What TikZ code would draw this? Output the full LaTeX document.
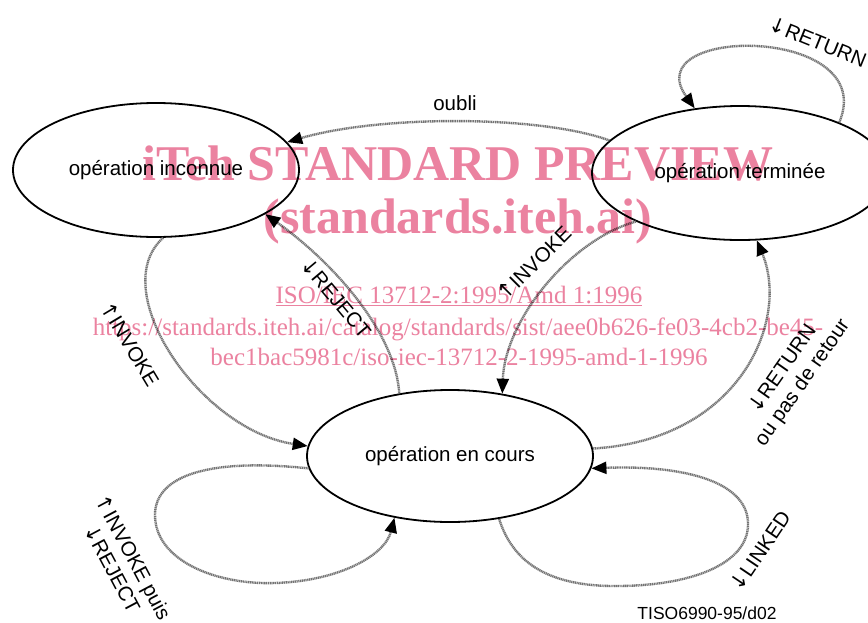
\documentclass[tikz,border=0pt]{standalone}
\usepackage{fontspec}
\setmainfont{Liberation Sans}
\newfontfamily\wmfont{Liberation Serif}
\newfontfamily\arrfont{DejaVu Sans}
\newcommand{\arrup}{{\arrfont ↑}}
\newcommand{\arrdn}{{\arrfont ↓}}
\usetikzlibrary{shapes.geometric,arrows.meta}
\definecolor{wm}{RGB}{235,130,160}
\begin{document}
\begin{tikzpicture}[x=1pt,y=-1pt,
  state/.style={ellipse, draw, line width=1.8pt, inner sep=0pt, font=\fontsize{20.5}{23}\selectfont},
  conn/.style={draw=black!55, line width=2.4pt, dash pattern=on 1.2pt off 0.6pt,
    -{Triangle[length=15pt,width=12pt,color=black]}},
  lbl/.style={font=\fontsize{20.5}{24}\selectfont, inner sep=0pt, align=center},
  wmbig/.style={text=wm, font=\wmfont\bfseries\fontsize{50}{50}\selectfont, inner sep=0pt, anchor=base},
  wmsmall/.style={text=wm, font=\wmfont\fontsize{25}{25}\selectfont, inner sep=0pt, anchor=base}]
\clip (0,0) rectangle (868,622);
\useasboundingbox (0,0) rectangle (868,622);

% states
\node[state, minimum width=286pt, minimum height=134pt] (inc) at (156,170) {opération inconnue};
\node[state, minimum width=296pt, minimum height=134pt] (term) at (740,173) {opération terminée};
\node[state, minimum width=286pt, minimum height=132pt] (cours) at (450,456) {opération en cours};

% connectors
\draw[conn] (term.166) .. controls (540,115) and (380,115) .. (inc.12);
\draw[conn] (inc.-84) .. controls (105,290) and (200,430) .. (cours.176);
\draw[conn] (cours.129) .. controls (395,330) and (330,260) .. (inc.-22);
\draw[conn] (term.205) .. controls (570,240) and (505,320) .. (cours.50);
\draw[conn] (cours.3) .. controls (740,440) and (790,320) .. (term.-76);
\draw[conn] (term.27) .. controls (880,25) and (635,25) .. (term.125);
\draw[conn] (cours.185) .. controls (210,458) and (155,475) .. (155,515)
   .. controls (155,560) and (215,585) .. (275,583)
   .. controls (340,581) and (385,555) .. (cours.228);
\draw[conn] (cours.-52) .. controls (515,570) and (560,587) .. (620,586)
   .. controls (700,585) and (750,560) .. (748,522)
   .. controls (746,480) and (680,465) .. (cours.-5);

% labels
\node[lbl] (loubli) at (455,103) {oubli};
\node[lbl, rotate=-59] (linv1) at (130,344) {\arrup INVOKE};
\node[lbl, rotate=-50] (lrej) at (336,298) {\arrdn REJECT};
\node[lbl, rotate=45] (linv2) at (534,263) {\arrup INVOKE};
\node[lbl, rotate=55] (lret) at (793,376) {\arrdn RETURN\\ou pas de retour};
\node[lbl, rotate=-22] (lret2) at (818,42) {\arrdn RETURN};
\node[lbl, rotate=-62] (linvrej) at (123,563) {\arrup INVOKE puis\\\arrdn REJECT};
\node[lbl, rotate=56] (llink) at (760,551) {\arrdn LINKED};
\node[lbl, font=\fontsize{17.5}{19}\selectfont] (ref) at (707,613) {TISO6990-95/d02};

% watermark
\begin{scope}[blend mode=multiply]
\node[wmbig] (w1) at (458,180) {iTeh STANDARD PREVIEW};
\node[wmbig] (w2) at (458,233) {(standards.iteh.ai)};
\node[wmsmall] (w3) at (459,303) {\underline{ISO/IEC 13712-2:1995/Amd 1:1996}};
\node[wmsmall] (w4) at (458,335) {https://standards.iteh.ai/catalog/standards/sist/aee0b626-fe03-4cb2-be45-};
\node[wmsmall] (w5) at (459,365) {bec1bac5981c/iso-iec-13712-2-1995-amd-1-1996};
\end{scope}
\end{tikzpicture}
\end{document}
